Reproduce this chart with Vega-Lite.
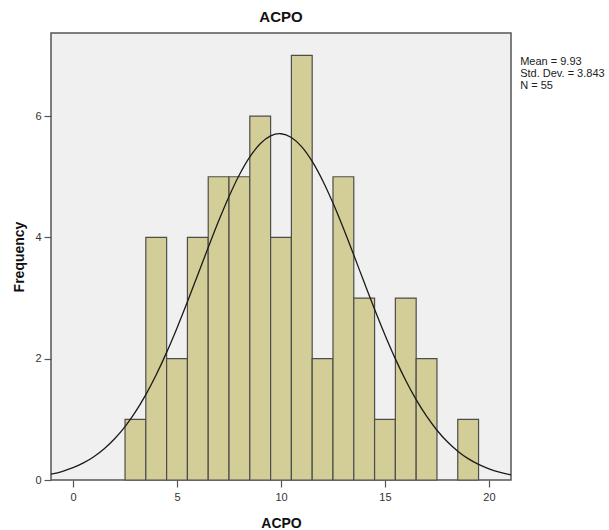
{
  "$schema": "https://vega.github.io/schema/vega-lite/v6.json",
  "width": 460,
  "height": 447,
  "autosize": {"type": "none"},
  "padding": {"left": 51, "top": 33, "right": 98, "bottom": 50},
  "background": "white",
  "config": {
    "view": {"fill": "#f0f0f0", "stroke": "#555555", "strokeWidth": 1.5},
    "font": "Liberation Sans",
    "axis": {"labelFont": "Liberation Sans", "titleFont": "Liberation Sans", "labelColor": "#333333", "labelFontSize": 11, "titleFontSize": 14, "titleFontWeight": "bold", "titleColor": "#111111", "grid": false, "domain": false, "tickColor": "#555555", "tickWidth": 1.2}
  },
  "title": {"text": "ACPO", "font": "Liberation Sans", "fontSize": 15, "fontWeight": "bold", "color": "#111111", "offset": 8},
  "datasets": {
    "bins": [
      {"start": 2.5, "end": 3.5, "count": 1},
      {"start": 3.5, "end": 4.5, "count": 4},
      {"start": 4.5, "end": 5.5, "count": 2},
      {"start": 5.5, "end": 6.5, "count": 4},
      {"start": 6.5, "end": 7.5, "count": 5},
      {"start": 7.5, "end": 8.5, "count": 5},
      {"start": 8.5, "end": 9.5, "count": 6},
      {"start": 9.5, "end": 10.5, "count": 4},
      {"start": 10.5, "end": 11.5, "count": 7},
      {"start": 11.5, "end": 12.5, "count": 2},
      {"start": 12.5, "end": 13.5, "count": 5},
      {"start": 13.5, "end": 14.5, "count": 3},
      {"start": 14.5, "end": 15.5, "count": 1},
      {"start": 15.5, "end": 16.5, "count": 3},
      {"start": 16.5, "end": 17.5, "count": 2},
      {"start": 18.5, "end": 19.5, "count": 1}
    ],
    "curve": [
      {"x": -1.06, "y": 0.0957}, {"x": -1, "y": 0.100}, {"x": -0.5, "y": 0.1436}, {"x": 0, "y": 0.2027},
      {"x": 0.5, "y": 0.2813}, {"x": 1, "y": 0.3838}, {"x": 1.5, "y": 0.5149}, {"x": 2, "y": 0.6793},
      {"x": 2.5, "y": 0.8809}, {"x": 3, "y": 1.1233}, {"x": 3.5, "y": 1.4082}, {"x": 4, "y": 1.7361},
      {"x": 4.5, "y": 2.1042}, {"x": 5, "y": 2.5076}, {"x": 5.5, "y": 2.9381}, {"x": 6, "y": 3.3847},
      {"x": 6.5, "y": 3.8338}, {"x": 7, "y": 4.2694}, {"x": 7.5, "y": 4.6751}, {"x": 8, "y": 5.0331},
      {"x": 8.5, "y": 5.3276}, {"x": 9, "y": 5.5448}, {"x": 9.5, "y": 5.674}, {"x": 9.93, "y": 5.7096},
      {"x": 10, "y": 5.7087}, {"x": 10.5, "y": 5.6471}, {"x": 11, "y": 5.4925}, {"x": 11.5, "y": 5.2525},
      {"x": 12, "y": 4.9386}, {"x": 12.5, "y": 4.5655}, {"x": 13, "y": 4.1499}, {"x": 13.5, "y": 3.7086},
      {"x": 14, "y": 3.2588}, {"x": 14.5, "y": 2.8154}, {"x": 15, "y": 2.3914}, {"x": 15.5, "y": 1.9972},
      {"x": 16, "y": 1.6401}, {"x": 16.5, "y": 1.3242}, {"x": 17, "y": 1.0513}, {"x": 17.5, "y": 0.8205},
      {"x": 18, "y": 0.6296}, {"x": 18.5, "y": 0.475}, {"x": 19, "y": 0.3524}, {"x": 19.5, "y": 0.257},
      {"x": 20, "y": 0.1844}, {"x": 20.5, "y": 0.13}, {"x": 21, "y": 0.0901}, {"x": 21.06, "y": 0.0861}
    ],
    "stats": [
      {"label": "Mean = 9.93", "row": 6.89},
      {"label": "Std. Dev. = 3.843", "row": 6.69},
      {"label": "N = 55", "row": 6.49}
    ]
  },
  "layer": [
    {
      "data": {"name": "bins"},
      "mark": {"type": "rect", "fill": "#d3ce98", "stroke": "#4d4d4d", "strokeWidth": 1.2},
      "encoding": {
        "x": {"field": "start", "type": "quantitative", "scale": {"domain": [-1.06, 21.06], "nice": false, "zero": false},
              "axis": {"values": [0, 5, 10, 15, 20], "format": "d", "tickSize": 7, "labelPadding": 4, "title": "ACPO", "titlePadding": 14}},
        "x2": {"field": "end"},
        "y": {"field": "count", "type": "quantitative", "scale": {"domain": [0, 7.37], "nice": false},
              "axis": {"values": [0, 2, 4, 6], "format": "d", "tickSize": 7, "labelPadding": 3, "title": "Frequency", "titlePadding": 8}},
        "y2": {"datum": 0}
      }
    },
    {
      "data": {"name": "curve"},
      "mark": {"type": "line", "color": "#1a1a1a", "strokeWidth": 1.3, "interpolate": "monotone"},
      "encoding": {
        "x": {"field": "x", "type": "quantitative"},
        "y": {"field": "y", "type": "quantitative"}
      }
    },
    {
      "data": {"name": "stats"},
      "mark": {"type": "text", "align": "left", "baseline": "middle", "fontSize": 11, "color": "#222222", "clip": false, "font": "Liberation Sans"},
      "encoding": {
        "x": {"datum": 21.5, "type": "quantitative"},
        "y": {"field": "row", "type": "quantitative"},
        "text": {"field": "label"}
      }
    }
  ]
}
